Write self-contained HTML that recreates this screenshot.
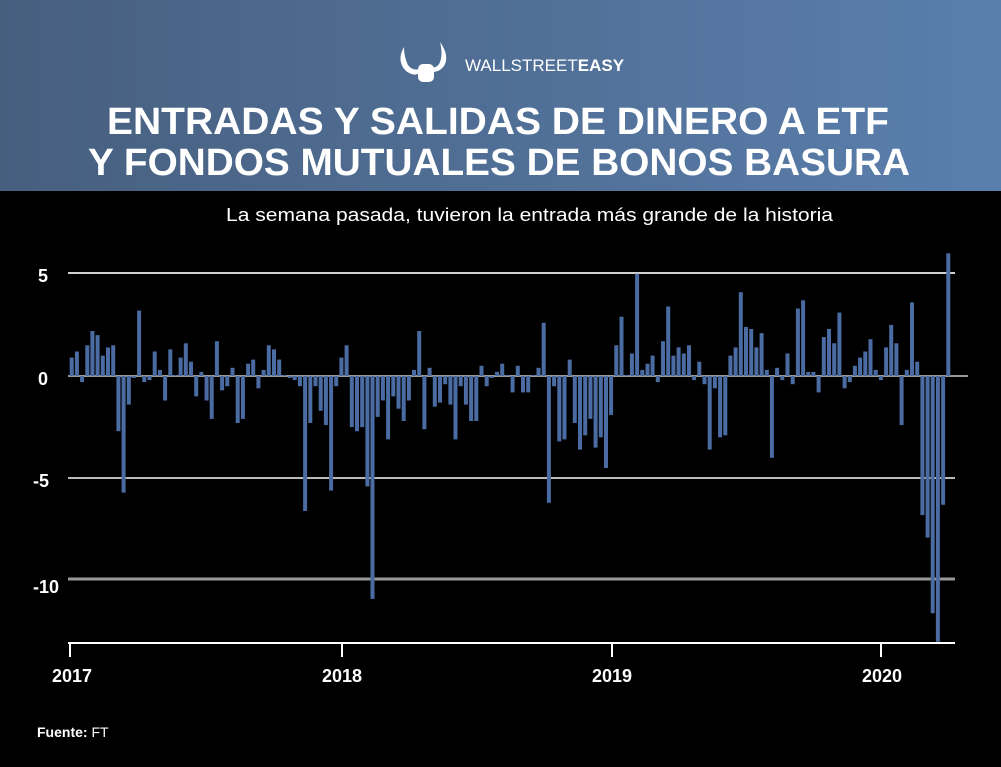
<!DOCTYPE html>
<html><head><meta charset="utf-8"><style>
html,body{margin:0;padding:0;background:#000;}
body{width:1001px;height:762px;overflow:hidden;font-family:"Liberation Sans",sans-serif;}
</style></head><body>
<svg width="1001" height="762" viewBox="0 0 1001 762" xmlns="http://www.w3.org/2000/svg" font-family="Liberation Sans, sans-serif">
<defs><linearGradient id="g" x1="0" y1="0" x2="1" y2="0"><stop offset="0" stop-color="#475f7f"/><stop offset="1" stop-color="#5a7fad"/></linearGradient></defs>
<rect width="1001" height="762" fill="#000"/>
<rect width="1001" height="191" fill="url(#g)"/>
<!-- logo -->
<g fill="#fff">
<path d="M404 47 q-8 14 2 24 q8 6 14 2 l0 -4 q-8 2 -12 -4 q-4 -8 -4 -18z"/>
<path d="M440 42 q10 14 4 24 q-5 7 -14 6 l0 -4 q8 0 10 -6 q3 -8 0 -20z"/>
<rect x="418" y="64" width="16" height="18" rx="5"/>
</g>
<text x="465" y="71" fill="#fff" font-size="17">WALLSTREET<tspan font-weight="bold">EASY</tspan></text>
<text x="107" y="134" fill="#fff" font-size="38" font-weight="bold" textLength="782" lengthAdjust="spacingAndGlyphs">ENTRADAS Y SALIDAS DE DINERO A ETF</text>
<text x="88" y="175" fill="#fff" font-size="38" font-weight="bold" textLength="822" lengthAdjust="spacingAndGlyphs">Y FONDOS MUTUALES DE BONOS BASURA</text>
<text x="226" y="221" fill="#fff" font-size="18" textLength="607" lengthAdjust="spacingAndGlyphs">La semana pasada, tuvieron la entrada más grande de la historia</text>
<!-- grid -->
<g stroke="#d0d0d0" stroke-width="2">
<line x1="68" y1="273" x2="955" y2="273"/>
<line x1="68" y1="478" x2="955" y2="478" stroke="#bbb"/>
<line x1="68" y1="579" x2="955" y2="579" stroke="#999" stroke-width="3"/>
<line x1="68" y1="376" x2="968" y2="376" stroke="#999"/>
</g>
<g fill="#fff" font-size="18" font-weight="bold">
<text x="38" y="282">5</text>
<text x="38" y="385">0</text>
<text x="33" y="487">-5</text>
<text x="33" y="593">-10</text>
</g>
<g id="bars" fill="#4a6ca3"></g>
<g stroke="#fff" stroke-width="2">
<line x1="68" y1="643" x2="955" y2="643"/>
<line x1="70" y1="643" x2="70" y2="657"/>
<line x1="342" y1="643" x2="342" y2="657"/>
<line x1="612" y1="643" x2="612" y2="657"/>
<line x1="881" y1="643" x2="881" y2="657"/>
</g>
<g fill="#fff" font-size="18" font-weight="bold" text-anchor="middle">
<text x="72" y="682">2017</text><text x="342" y="682">2018</text><text x="612" y="682">2019</text><text x="882" y="682">2020</text>
</g>
<text x="37" y="737" fill="#fff" font-size="14"><tspan font-weight="bold">Fuente:</tspan> FT</text>
</svg>
<script>
var v=[0.9,1.2,-0.3,1.5,2.2,2.0,1.0,1.4,1.5,-2.7,-5.7,-1.4,-0.1,3.2,-0.3,-0.2,1.2,0.3,-1.2,1.3,0.05,0.9,1.6,0.7,-1.0,0.2,-1.2,-2.1,1.7,-0.7,-0.5,0.4,-2.3,-2.1,0.6,0.8,-0.6,0.3,1.5,1.3,0.8,0.05,-0.1,-0.2,-0.5,-6.6,-2.3,-0.5,-1.7,-2.4,-5.6,-0.5,0.9,1.5,-2.5,-2.7,
-2.5,-5.4,-10.9,-2.0,-1.2,-3.1,-1.0,-1.6,-2.2,-1.2,0.3,2.2,-2.6,0.4,-1.5,-1.3,-0.4,-1.4,-3.1,-0.5,-1.4,-2.2,-2.2,0.5,-0.5,-0.1,0.2,0.6,0.05,-0.8,0.5,-0.8,-0.8,0.05,0.4,2.6,-6.2,-0.5,-3.2,-3.1,0.8,-2.3,-3.6,-2.9,-2.1,-3.5,-3.0,-4.5,-1.9,1.5,2.9,0.05,1.1,5.0,
0.3,0.6,1.0,-0.3,1.7,3.4,1.0,1.4,1.1,1.5,-0.2,0.7,-0.4,-3.6,-0.6,-3.0,-2.9,1.0,1.4,4.1,2.4,2.3,1.4,2.1,0.3,-4.0,0.4,-0.2,1.1,-0.4,3.3,3.7,0.2,0.2,-0.8,1.9,2.3,1.6,3.1,-0.6,-0.3,0.5,0.9,1.2,1.8,0.3,-0.2,1.4,2.5,1.6,-2.4,0.3,3.6,0.7,-6.8,-7.9,-11.6,-13.0,-6.3,6.0];
var g=document.getElementById('bars'),s='';
for(var i=0;i<v.length;i++){var x=71.7+i*5.187-2,h=Math.abs(v[i])*20.45,y=v[i]>=0?376-h:376;s+='<rect x="'+x.toFixed(1)+'" y="'+y.toFixed(1)+'" width="4" height="'+h.toFixed(1)+'"/>';}
g.innerHTML=s;
</script>
</body></html>
